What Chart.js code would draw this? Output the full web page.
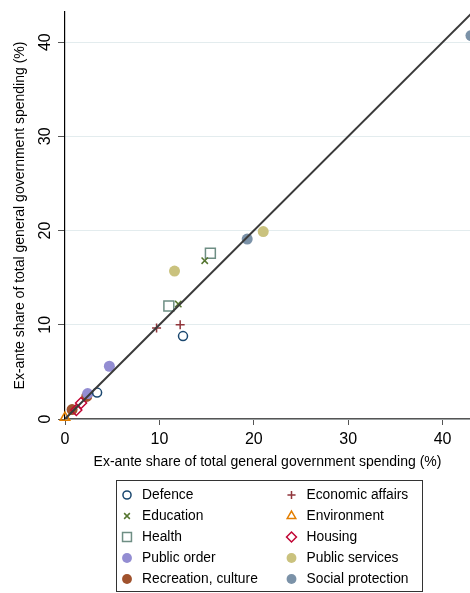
<!DOCTYPE html>
<html lang="en">
<head>
<meta charset="UTF-8">
<title>Ex-ante spending shares</title>
<script src="https://cdn.jsdelivr.net/npm/chart.js"></script>
<style>
  html, body { margin: 0; padding: 0; background: #fff; overflow: hidden; }
  #chart { display: block; }
</style>
</head>
<body>
<canvas id="chart" width="470" height="593"></canvas>
<script>
// Spending categories and their (x, y) shares in %
const categories = ['Defence', 'Economic affairs', 'Education', 'Environment', 'Health',
                    'Housing', 'Public order', 'Public services', 'Recreation, culture', 'Social protection'];

const defenceX = [3.4, 12.5],    defenceY = [2.8, 8.8];
const economicX = [9.7, 12.2],   economicY = [9.65, 10.0];
const educationX = [12.0, 14.8], educationY = [12.2, 16.8];
const environmentX = [0.0],      environmentY = [0.15];
const healthX = [11.0, 15.4],    healthY = [12.0, 17.6];
const housingX = [1.2, 1.7],     housingY = [0.95, 1.7];
const orderX = [2.4, 4.7],       orderY = [2.7, 5.6];
const servicesX = [11.6, 21.0],  servicesY = [15.7, 19.9];
const recreationX = [0.75, 2.3], recreationY = [1.0, 2.4];
const socialX = [19.3, 43.0],    socialY = [19.1, 40.7];

// 45 degree reference line
const diagonal = [0, 45];

const xTicks = [0, 10, 20, 30, 40];
const yTicks = [0, 10, 20, 30, 40];

const seriesX = [defenceX, economicX, educationX, environmentX, healthX,
                 housingX, orderX, servicesX, recreationX, socialX];
const seriesY = [defenceY, economicY, educationY, environmentY, healthY,
                 housingY, orderY, servicesY, recreationY, socialY];

// Stata s2color palette and marker symbols
const colors = ['#1a476f', '#90353b', '#55752f', '#e37e00', '#6e8e84',
                '#c10534', '#938dd2', '#cac27e', '#a0522d', '#7b92a8'];
const markers = [
  { style: 'circle',   radius: 4.5, hollow: true },
  { style: 'cross',    radius: 4.5, hollow: true },
  { style: 'crossRot', radius: 4.5, hollow: true },
  { style: 'triangle', radius: 5.5, hollow: true },
  { style: 'rect',     radius: 7,   hollow: true },
  { style: 'rectRot',  radius: 5.5, hollow: true },
  { style: 'circle',   radius: 5.5, hollow: false },
  { style: 'circle',   radius: 5.5, hollow: false },
  { style: 'circle',   radius: 5.5, hollow: false },
  { style: 'circle',   radius: 5.5, hollow: false }
];

const FONT = '"Liberation Sans", Arial, Helvetica, sans-serif';

const datasets = categories.map((name, i) => ({
  label: name,
  data: seriesX[i].map((x, j) => ({ x: x, y: seriesY[i][j] })),
  pointStyle: markers[i].style,
  pointRadius: markers[i].radius,
  pointHoverRadius: markers[i].radius,
  backgroundColor: markers[i].hollow ? 'rgba(0,0,0,0)' : colors[i],
  borderColor: colors[i],
  borderWidth: markers[i].hollow ? 1.5 : 0,
  clip: false,
  order: 1
}));

datasets.push({
  label: '45 degree line',
  data: diagonal.map(v => ({ x: v, y: v })),
  showLine: true,
  pointRadius: 0,
  borderColor: '#3a3a3a',
  borderWidth: 2,
  order: 0
});

// rotated tick labels on the vertical axis
const yTickLabels = {
  id: 'yTickLabels',
  afterDraw(chart) {
    const { ctx, scales: { y } } = chart;
    ctx.save();
    ctx.font = '16px ' + FONT;
    ctx.fillStyle = '#000';
    ctx.textAlign = 'center';
    ctx.textBaseline = 'middle';
    y.ticks.forEach(t => {
      ctx.save();
      ctx.translate(45.5, y.getPixelForValue(t.value));
      ctx.rotate(-Math.PI / 2);
      ctx.fillText(t.label, 0, 0);
      ctx.restore();
    });
    ctx.restore();
  }
};

// boxed two-column legend under the plot
const boxLegend = {
  id: 'boxLegend',
  afterDraw(chart) {
    const ctx = chart.ctx;
    ctx.save();
    ctx.strokeStyle = '#333';
    ctx.lineWidth = 1;
    ctx.strokeRect(116.5, 480.5, 306, 111);
    ctx.font = '13.8px ' + FONT;
    ctx.textBaseline = 'middle';
    ctx.textAlign = 'left';
    categories.forEach((name, i) => {
      const col = i % 2, row = Math.floor(i / 2);
      const mx = 127 + col * 164.5, ty = 495 + row * 21;
      const m = markers[i];
      ctx.fillStyle = m.hollow ? 'rgba(0,0,0,0)' : colors[i];
      ctx.strokeStyle = colors[i];
      ctx.lineWidth = 1.5;
      Chart.helpers.drawPoint(ctx, {
        pointStyle: m.style,
        radius: m.radius * 0.9,
        rotation: 0,
        borderWidth: m.hollow ? 1.5 : 0
      }, mx, ty);
      ctx.fillStyle = '#000';
      ctx.fillText(name, mx + 15, ty + 0.5);
    });
    ctx.restore();
  }
};

new Chart(document.getElementById('chart'), {
  type: 'scatter',
  data: { datasets: datasets },
  plugins: [yTickLabels, boxLegend],
  options: {
    responsive: false,
    animation: false,
    devicePixelRatio: 1,
    layout: { autoPadding: false, padding: { top: 12, right: 0, bottom: 118, left: 0 } },
    plugins: {
      legend: { display: false },
      tooltip: { enabled: false }
    },
    scales: {
      x: {
        type: 'linear',
        min: 0,
        max: 42.9,
        afterFit(scale) {
          scale.height = 56;
          scale.paddingLeft = 0;
          scale.paddingRight = 0;
        },
        afterBuildTicks(scale) { scale.ticks = xTicks.map(v => ({ value: v })); },
        border: { color: '#555', width: 1.5 },
        grid: { drawOnChartArea: false, drawTicks: true, tickLength: 6, tickColor: '#555', tickWidth: 1 },
        ticks: { font: { family: FONT, size: 16 }, color: '#000', padding: 5, maxRotation: 0 },
        title: {
          display: true,
          text: 'Ex-ante share of total general government spending (%)',
          font: { family: FONT, size: 14 },
          color: '#000',
          padding: { top: 0, bottom: 4 }
        }
      },
      y: {
        type: 'linear',
        min: 0,
        max: 43.2,
        afterFit(scale) {
          scale.width = 65;
          scale.paddingTop = 0;
          scale.paddingBottom = 0;
        },
        afterBuildTicks(scale) { scale.ticks = yTicks.map(v => ({ value: v, label: String(v) })); },
        border: { color: '#000', width: 1.2 },
        grid: {
          color: '#e3ecee',
          lineWidth: 1,
          drawTicks: true,
          tickLength: 7,
          tickColor: '#555',
          tickWidth: 1
        },
        ticks: { display: false },
        title: {
          display: true,
          text: 'Ex-ante share of total general government spending (%)',
          font: { family: FONT, size: 14 },
          color: '#000',
          padding: { top: 12, bottom: 0 }
        }
      }
    }
  }
});
</script>
</body>
</html>
